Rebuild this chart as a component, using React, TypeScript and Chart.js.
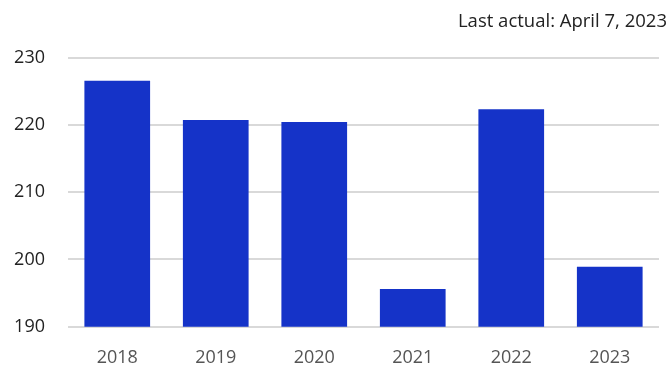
import React, { useEffect, useRef } from "react";
import { Chart, registerables } from "chart.js";

Chart.register(...registerables);

const categories = ["2018", "2019", "2020", "2021", "2022", "2023"];
const values = [226.55, 220.7, 220.4, 195.6, 222.3, 198.9];
const yTicks = [190, 200, 210, 220, 230];
const titleText = "Last actual: April 7, 2023";

const FONT = "'Open Sans', sans-serif";

const titlePlugin = {
  id: "cornerTitle",
  afterDraw(chart: any) {
    const c = chart.ctx;
    c.save();
    c.font = `18.5px ${FONT}`;
    c.fillStyle = "#222";
    c.textAlign = "right";
    c.textBaseline = "middle";
    c.fillText(titleText, chart.width - 3, 22);
    c.restore();
  },
};

export default function App() {
  const ref = useRef<HTMLCanvasElement | null>(null);
  useEffect(() => {
    document.body.style.margin = "0";
    const ctx = ref.current!;
    const chart = new Chart(ctx, {
      type: "bar",
      data: {
        labels: categories,
        datasets: [
          {
            data: values,
            backgroundColor: "#1533c8",
            borderWidth: 0,
            barPercentage: 0.667,
            categoryPercentage: 1,
          },
        ],
      },
      plugins: [titlePlugin],
      options: {
        animation: false,
        responsive: false,
        devicePixelRatio: 1,
        layout: { padding: { left: 0, right: 11, top: 57.5, bottom: 0 } },
        plugins: {
          legend: { display: false },
          tooltip: { enabled: false },
          title: { display: false },
        },
        scales: {
          x: {
            grid: { display: false },
            border: { display: false },
            afterFit: (axis: any) => {
              axis.height = 38.3;
            },
            ticks: {
              color: "#555",
              font: { family: FONT, size: 18 },
              padding: 12,
              maxRotation: 0,
            },
          },
          y: {
            min: 190,
            max: 230,
            afterBuildTicks: (axis: any) => {
              axis.ticks = yTicks.map((v) => ({ value: v }));
            },
            afterFit: (axis: any) => {
              axis.width = 68;
            },
            grid: { color: "#d9d9d9", lineWidth: 2, drawTicks: false },
            border: { display: false },
            ticks: {
              color: "#222",
              font: { family: FONT, size: 18 },
              padding: 23,
            },
          },
        },
      },
    });
    return () => chart.destroy();
  }, []);
  return (
    <div style={{ position: "absolute", left: 0, top: 0, width: 670, height: 365 }}>
      <canvas ref={ref} width={670} height={365} style={{ width: 670, height: 365 }} />
    </div>
  );
}
